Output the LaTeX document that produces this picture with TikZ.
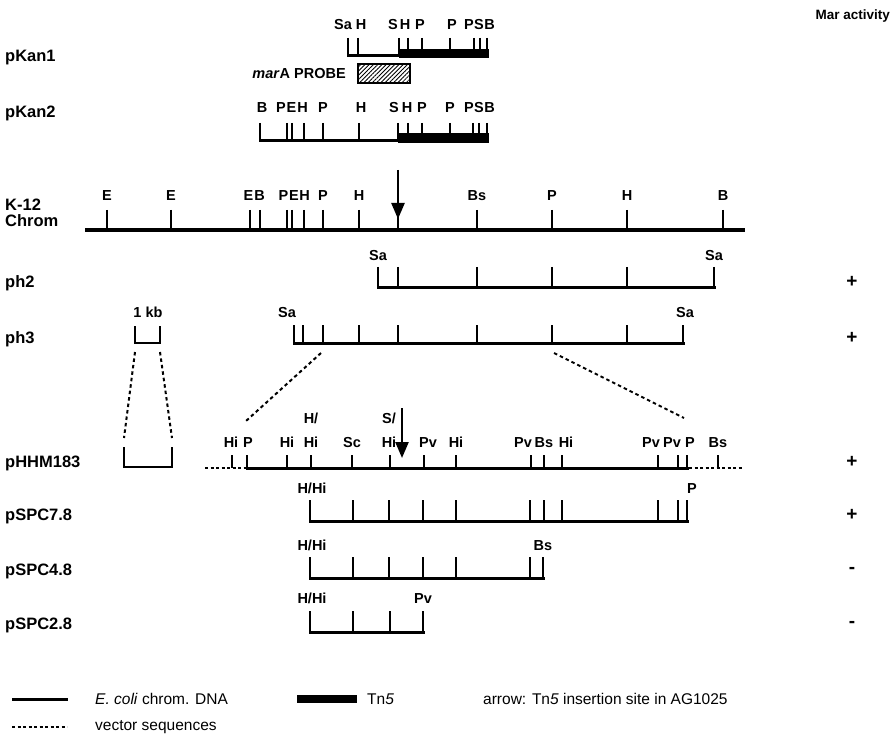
\documentclass[tikz,border=0pt]{standalone}
\usepackage{fontspec}
\setmainfont{Liberation Sans}
\usetikzlibrary{arrows.meta,patterns.meta}

\tikzset{
  site/.style={font=\bfseries\fontsize{14.5}{16}\selectfont, inner sep=0pt, text height=10.4pt, text depth=0pt},
  rowname/.style={font=\bfseries\fontsize{16.5}{18}\selectfont, inner sep=0pt, text height=11.8pt, text depth=0pt, anchor=west},
  score/.style={font=\bfseries\fontsize{19}{20}\selectfont, inner sep=0pt},
  legend/.style={font=\fontsize{15.5}{17}\selectfont, anchor=west, inner sep=0pt},
  dna/.style={line width=3pt, line cap=rect},
  cut/.style={line width=2.4pt},
  vector/.style={line width=2.6pt, dash pattern=on 3pt off 2.5pt},
  zoomline/.style={line width=2pt, dash pattern=on 3.5pt off 3pt},
  insert/.style={-{Triangle[length=16pt,width=13pt]}, line width=2.4pt},
}

\begin{document}
\begin{tikzpicture}[x=1pt,y=-1pt]
  \useasboundingbox (0,0) rectangle (894,735);
  \node[site, font=\bfseries\fontsize{13.5}{15}\selectfont, anchor=east] (maract) at (890,14) {Mar activity};

  % pKan1
  \node[rowname] (kan1) at (5,56) {pKan1};
  \foreach \x in {348,358,399,408,422,450,474,480,487}
    \draw[cut] (\x,38) -- (\x,56);
  \draw[dna] (348,56) -- (399,56);
  \fill (399,49) rectangle (488.5,58);
  \foreach \x/\t [count=\i] in {343/Sa,361/H,393/S,405/H,420/P,452/P,469/P,479/S,489.5/B}
    \node[site] (kan1s\i) at (\x,24) {\t};
  % marA probe
  \node[site, anchor=east] (probe) at (346,73) {\textit{mar}A PROBE};
  \draw[line width=1.5pt, pattern={Lines[angle=45,distance=3pt,line width=0.8pt]}]
    (358,64) rectangle (410,83);

  % pKan2
  \node[rowname] (kan2) at (5,112) {pKan2};
  \foreach \x in {260,287,292,304,323,359,398,408,422,450,473,479,487}
    \draw[cut] (\x,123) -- (\x,141);
  \draw[dna] (260,141) -- (398,141);
  \fill (398,133) rectangle (488.5,143);
  \foreach \x/\t [count=\i] in {262/B,281/P,291.5/E,302.5/H,323/P,361/H,394/S,407/H,422/P,450/P,469/P,479/S,489.5/B}
    \node[site] (kan2s\i) at (\x,107) {\t};

  % K-12 chromosome
  \node[rowname] (k12a) at (5,205) {K-12};
  \node[rowname] (k12b) at (5,221) {Chrom};
  \foreach \x in {107,171,250,260,287,292,304,323,359,398,477,552,627,723}
    \draw[cut] (\x,210) -- (\x,230);
  \draw[dna, line width=3.4pt] (87,230) -- (743,230);
  \foreach \x/\t [count=\i] in {107/E,171/E,248.5/E,259.5/B,283.5/P,294/E,304.5/H,323/P,359/H,477/Bs,552/P,627/H,723/B}
    \node[site] (k12s\i) at (\x,195) {\t};
  \coordinate (k12from) at (398,170);
  \coordinate (k12to) at (398,219);
  \draw[insert] (k12from) -- (k12to);

  % ph2
  \node[rowname] (ph2) at (5,282) {ph2};
  \foreach \x in {378,398,477,552,627,714}
    \draw[cut] (\x,267) -- (\x,288);
  \draw[dna] (378,288) -- (714,288);
  \node[site] (ph2l) at (378,255) {Sa};
  \node[site] (ph2r) at (714,255) {Sa};
  \node[score] (mar2) at (852,282) {+};

  % ph3
  \node[rowname] (ph3) at (5,338) {ph3};
  \foreach \x in {294,303,323,359,398,477,552,627,683}
    \draw[cut] (\x,325) -- (\x,343);
  \draw[dna] (294,343) -- (683,343);
  \node[site] (ph3l) at (287,312) {Sa};
  \node[site] (ph3r) at (685,312) {Sa};
  \node[score] (mar3) at (852,338) {+};

  % 1 kb scale bars
  \node[site] (kb) at (148,312) {1 kb};
  \draw[cut, line join=miter] (135,326) -- (135,343) -- (160,343) -- (160,326);
  \draw[cut, line join=miter] (124,447) -- (124,467) -- (172,467) -- (172,447);
  \coordinate (kbA) at (135,352);
  \coordinate (kbB) at (160,352);
  \coordinate (kbC) at (124,438);
  \coordinate (kbD) at (172,438);
  \draw[zoomline] (kbA) -- (kbC);
  \draw[zoomline] (kbB) -- (kbD);

  % expansion of ph3
  \coordinate (ph3a) at (321,353);
  \coordinate (ph3b) at (554,353);
  \coordinate (hhma) at (246,421);
  \coordinate (hhmb) at (684,418);
  \draw[zoomline] (ph3a) -- (hhma);
  \draw[zoomline] (ph3b) -- (hhmb);

  % pHHM183
  \node[rowname] (hhm) at (5,462) {pHHM183};
  \foreach \x in {232,247,287,311,352,390,424,456,531,544,562,658,678,687,718}
    \draw[cut] (\x,455) -- (\x,468);
  \draw[vector] (205,468) -- (247,468);
  \draw[dna] (247,468) -- (687,468);
  \draw[vector] (689,468) -- (743,468);
  \foreach \x/\t [count=\i] in {231/Hi,248/P,287/Hi,311/Hi,352/Sc,389/Hi,428/Pv,456/Hi,523/Pv,544/Bs,566/Hi,651/Pv,672/Pv,690/P,718/Bs}
    \node[site] (hhms\i) at (\x,442) {\t};
  \node[site] (hhmu1) at (311,418) {H/};
  \node[site] (hhmu2) at (389,418) {S/};
  \coordinate (hhmfrom) at (402,408);
  \coordinate (hhmto) at (402,458);
  \draw[insert] (hhmfrom) -- (hhmto);
  \node[score] (marh) at (852,462) {+};

  % pSPC7.8
  \node[rowname] (spc7) at (5,515) {pSPC7.8};
  \foreach \x in {310,353,389,423,456,530,544,562,658,678,687}
    \draw[cut] (\x,500) -- (\x,521);
  \draw[dna] (310,521) -- (687,521);
  \node[site] (spc7l) at (312,488) {H/Hi};
  \node[site] (spc7r) at (692,488) {P};
  \node[score] (mar7) at (852,515) {+};

  % pSPC4.8
  \node[rowname] (spc4) at (5,570) {pSPC4.8};
  \foreach \x in {310,353,389,423,456,530,543}
    \draw[cut] (\x,557) -- (\x,578);
  \draw[dna] (310,578) -- (543,578);
  \node[site] (spc4l) at (312,545) {H/Hi};
  \node[site] (spc4r) at (543,545) {Bs};
  \node[score] (mar4) at (852,570) {-};

  % pSPC2.8
  \node[rowname] (spc2) at (5,624) {pSPC2.8};
  \foreach \x in {310,353,390,423}
    \draw[cut] (\x,611) -- (\x,632);
  \draw[dna] (310,632) -- (423,632);
  \node[site] (spc2l) at (312,598) {H/Hi};
  \node[site] (spc2r) at (423,598) {Pv};
  \node[score] (mar2b) at (852,624) {-};

  % legend
  \coordinate (legA) at (12,699);
  \coordinate (legB) at (68,699);
  \draw[dna, line cap=butt] (legA) -- (legB);
  \node[legend] (legdna) at (95,699) {\textit{E. coli} chrom. DNA};
  \fill (297,695) rectangle (357,703);
  \node[legend] (legtn) at (367,699) {Tn\textit{5}};
  \node[legend] (legarr) at (483,699) {arrow: Tn\textit{5} insertion site in AG1025};
  \coordinate (legC) at (12,727);
  \coordinate (legD) at (67,727);
  \draw[vector] (legC) -- (legD);
  \node[legend] (legvec) at (95,727) {vector sequences};
\end{tikzpicture}
\end{document}
